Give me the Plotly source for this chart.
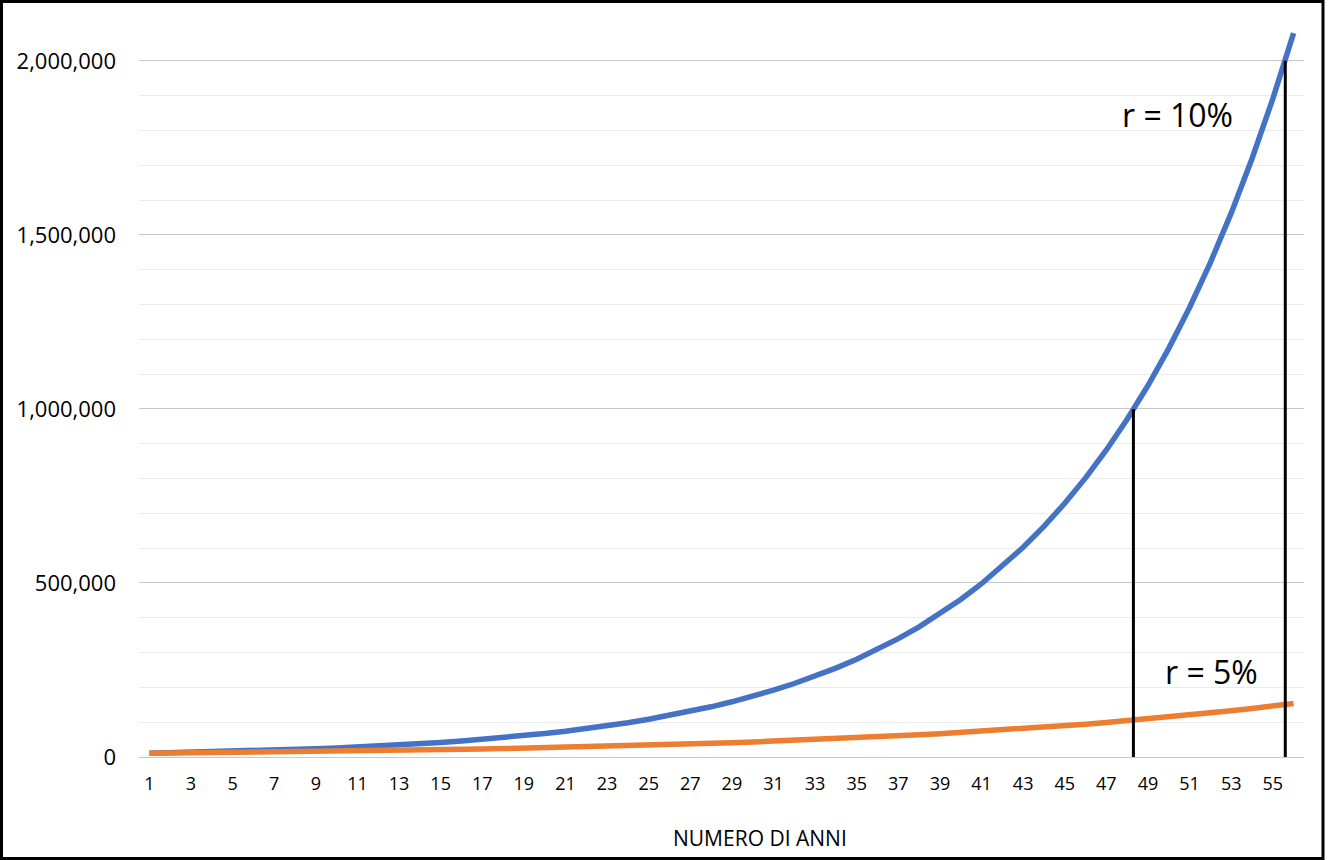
import plotly.graph_objects as go

# ---- data ----
years = list(range(1, 57))
capital_10 = [11000, 12100, 13310, 14641, 16105, 17716, 19487, 21436, 23579, 25937,
              28531, 31384, 34523, 37975, 41772, 45950, 50545, 55599, 61159, 67275,
              74002, 81403, 89543, 98497, 108347, 119182, 131100, 144210, 158631, 174494,
              191943, 211138, 232252, 255477, 281024, 309127, 340039, 374043, 411448, 452593,
              497852, 547637, 602401, 662641, 728905, 801795, 881975, 970172, 1067190, 1173909,
              1291299, 1420429, 1562472, 1718719, 1890591, 2079650]
capital_5 = [10500, 11025, 11576, 12155, 12763, 13401, 14071, 14775, 15513, 16289,
             17103, 17959, 18856, 19799, 20789, 21829, 22920, 24066, 25270, 26533,
             27860, 29253, 30715, 32251, 33864, 35557, 37335, 39201, 41161, 43219,
             45380, 47649, 50032, 52533, 55160, 57918, 60814, 63855, 67048, 70400,
             73920, 77616, 81497, 85572, 89850, 94343, 99060, 104013, 109213, 114674,
             120408, 126428, 132749, 139387, 146356, 153674]
marker_years = [48.3, 55.6]
marker_values = [1000000, 2000000]
x_tick_labels = [str(v) for v in range(1, 56, 2)]
y_tick_values = [0, 500000, 1000000, 1500000, 2000000]
y_tick_labels = ["0", "500,000", "1,000,000", "1,500,000", "2,000,000"]
label_10 = "r = 10%"
label_5 = "r = 5%"
x_title = "NUMERO DI ANNI"

# ---- layout geometry (pixels) ----
W, H = 1328, 860
L, R, T, B = 139, 24, 26, 103
pw, ph = W - L - R, H - T - B

def px_x(x):
    return (x - L) / pw

def px_y(y):
    return (H - B - y) / ph

FONT = "Open Sans"
BLUE = "#4472C4"
ORANGE = "#ED7D31"

fig = go.Figure()
fig.add_trace(go.Scatter(x=years, y=capital_10, mode="lines",
                         line=dict(color=BLUE, width=5.5), hoverinfo="skip"))
fig.add_trace(go.Scatter(x=years, y=capital_5, mode="lines",
                         line=dict(color=ORANGE, width=5.5), hoverinfo="skip"))
for xv, yv in zip(marker_years, marker_values):
    fig.add_trace(go.Scatter(x=[xv, xv], y=[0, yv], mode="lines",
                             line=dict(color="black", width=3), hoverinfo="skip"))

fig.update_layout(
    width=W, height=H,
    margin=dict(l=L, r=R, t=T, b=B),
    paper_bgcolor="white", plot_bgcolor="white",
    showlegend=False,
    font=dict(family=FONT, color="black"),
    xaxis=dict(range=[0.5, 56.5], tickmode="array",
               tickvals=[int(t) for t in x_tick_labels], ticktext=x_tick_labels,
               showgrid=False, zeroline=False, showline=False,
               tickfont=dict(size=18, family=FONT, color="black"),
               ticks="", ticklabelstandoff=14),
    yaxis=dict(range=[0, 2100000], tickmode="array",
               tickvals=y_tick_values, ticktext=y_tick_labels,
               showgrid=True, gridcolor="#C8C8C8", gridwidth=1,
               zeroline=True, zerolinecolor="#C8C8C8", zerolinewidth=1,
               showline=False, ticks="",
               tickfont=dict(size=22, family=FONT, color="black"),
               ticklabelstandoff=22,
               minor=dict(dtick=100000, showgrid=True, gridcolor="#EBEBEB", gridwidth=1)),
)

fig.add_annotation(text=label_10, xref="paper", yref="paper",
                   x=px_x(1177), y=px_y(114), showarrow=False,
                   xanchor="center", yanchor="middle",
                   font=dict(size=32, family=FONT, color="black"))
fig.add_annotation(text=label_5, xref="paper", yref="paper",
                   x=px_x(1211), y=px_y(671), showarrow=False,
                   xanchor="center", yanchor="middle",
                   font=dict(size=32, family=FONT, color="black"))
fig.add_annotation(text=x_title, xref="paper", yref="paper",
                   x=px_x(760), y=px_y(838), showarrow=False,
                   xanchor="center", yanchor="middle",
                   font=dict(size=21, family=FONT, color="black"))

# chart frame
fig.add_shape(type="rect", xref="paper", yref="paper",
              x0=px_x(1.5), x1=px_x(1323), y0=px_y(1.5), y1=px_y(858.5),
              line=dict(color="black", width=3), fillcolor="rgba(0,0,0,0)", layer="above")

fig.write_html("out.html")
